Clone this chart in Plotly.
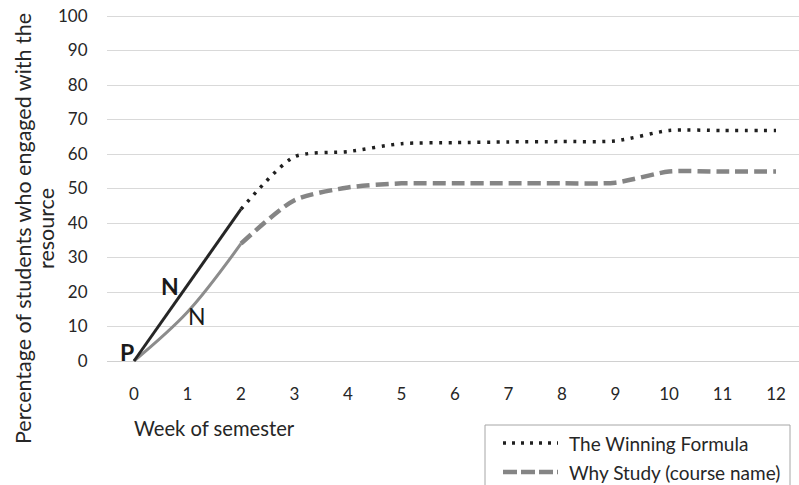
import plotly.graph_objects as go

# Weekly engagement (% of students) for the two resources
weeks = list(range(0, 13))
winning_formula = [0, 22, 44, 59.2, 60.7, 63.0, 63.3, 63.5, 63.6, 63.8, 66.8, 66.8, 66.8]
why_study = [0, 14.2, 34.0, 46.6, 50.3, 51.5, 51.5, 51.5, 51.5, 51.7, 54.9, 54.9, 54.9]
series_names = ["The Winning Formula", "Why Study (course name)"]
y_ticks = list(range(0, 101, 10))

FONT = "Lato"
TXT = "#262626"

# pixel geometry of the plotting area
W, H = 799, 485
ML, MR, MT, MB = 107, 0, 13, 119
PW, PH = W - ML - MR, H - MT - MB


def px_x(p):
    return (p - ML) / PW


def px_y(p):
    return (H - MB - p) / PH


fig = go.Figure()

# first two weeks drawn solid, remaining weeks dotted / dashed
split = 2
fig.add_trace(go.Scatter(
    x=weeks[:split + 1], y=why_study[:split + 1], mode="lines",
    line=dict(color="#8c8c8c", width=3, shape="spline"),
    showlegend=False, hoverinfo="skip"))
fig.add_trace(go.Scatter(
    x=weeks[split:], y=why_study[split:], mode="lines", name=series_names[1],
    line=dict(color="#858585", width=4.5, dash="13px,6px", shape="spline",
              smoothing=0.7),
    showlegend=False))
fig.add_trace(go.Scatter(
    x=weeks[:split + 1], y=winning_formula[:split + 1], mode="lines",
    line=dict(color="#262626", width=3, shape="spline"),
    showlegend=False, hoverinfo="skip"))
fig.add_trace(go.Scatter(
    x=weeks[split:], y=winning_formula[split:], mode="lines", name=series_names[0],
    line=dict(color="#1f1f1f", width=3.5, dash="3px,6.6px", shape="spline",
              smoothing=0.7),
    showlegend=False))

annotations = [
    # stage markers on the early part of the curves
    dict(x=-0.13, y=2.6, text="<b>P</b>", font=dict(size=23, color="#1a1a1a")),
    dict(x=0.67, y=21.6, text="<b>N</b>", font=dict(size=23, color="#1a1a1a")),
    dict(x=1.18, y=13.0, text="N", font=dict(size=23, color="#1a1a1a")),
]
for a in annotations:
    a.update(xref="x", yref="y", showarrow=False, font_family=FONT)

# axis titles
annotations += [
    dict(xref="paper", yref="paper", x=px_x(132), y=px_y(428), xanchor="left",
         yanchor="middle", text="Week of semester", showarrow=False,
         font=dict(family=FONT, size=20.2, color=TXT)),
]
for line_text, cx in [("Percentage of students who engaged with the", 23),
                      ("resource", 46)]:
    annotations.append(dict(
        xref="paper", yref="paper", x=px_x(cx), y=px_y(229), xanchor="center",
        yanchor="middle", textangle=-90, text=line_text, showarrow=False,
        font=dict(family=FONT, size=21.5, color=TXT)))

# legend box with line samples
shapes = [
    dict(type="rect", xref="paper", yref="paper", x0=px_x(485), x1=px_x(790),
         y0=px_y(505), y1=px_y(425), line=dict(color="#a6a6a6", width=1),
         fillcolor="white"),
    dict(type="line", xref="paper", yref="paper", x0=px_x(503), x1=px_x(558),
         y0=px_y(443), y1=px_y(443),
         line=dict(color="#1f1f1f", width=3.5, dash="3px,6px")),
    dict(type="line", xref="paper", yref="paper", x0=px_x(503), x1=px_x(558),
         y0=px_y(472), y1=px_y(472),
         line=dict(color="#858585", width=4.5, dash="14px,4px")),
]
for name, py in zip(series_names, [443, 472]):
    annotations.append(dict(
        xref="paper", yref="paper", x=px_x(567), y=px_y(py), xanchor="left",
        yanchor="middle", text=name, showarrow=False,
        font=dict(family=FONT, size=19, color=TXT)))

fig.update_layout(
    width=W, height=H,
    margin=dict(l=ML, r=MR, t=MT, b=MB, autoexpand=False),
    paper_bgcolor="white", plot_bgcolor="white",
    font=dict(family=FONT, size=17, color=TXT),
    annotations=annotations, shapes=shapes,
    xaxis=dict(range=[(ML - 134) / 53.5, (W - MR - 134) / 53.5],
               tickvals=weeks, ticktext=[str(w) for w in weeks],
               showgrid=False, zeroline=False, showline=False,
               ticks="outside", ticklen=13, tickcolor="rgba(0,0,0,0)",
               tickfont=dict(size=17)),
    yaxis=dict(range=[(361 - (H - MB)) / 3.45, (361 - MT) / 3.45],
               tickvals=y_ticks, showgrid=True, gridcolor="#d9d9d9", gridwidth=1,
               zeroline=True, zerolinecolor="#d0d0d0", zerolinewidth=1.3,
               showline=False, ticks="outside", ticklen=15,
               tickcolor="rgba(0,0,0,0)", tickfont=dict(size=17)),
)

fig.write_html("out.html")
